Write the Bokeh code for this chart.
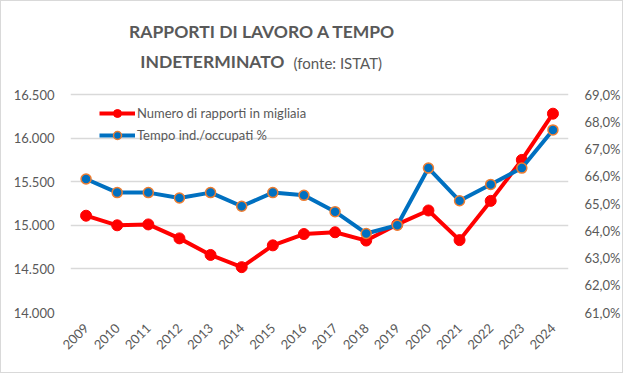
import math
from bokeh.plotting import figure
from bokeh.models import (Range1d, LinearAxis, FixedTicker, CustomJSTickFormatter,
                          Label, Legend, LegendItem, ColumnDataSource)
from bokeh.embed import file_html
from bokeh.resources import INLINE

years = [str(y) for y in range(2009, 2025)]
rapporti = [15110, 15000, 15010, 14850, 14660, 14520, 14770, 14900,
            14920, 14825, 15010, 15170, 14830, 15280, 15750, 16280]
quota = [65.9, 65.4, 65.4, 65.2, 65.4, 64.9, 65.4, 65.3,
         64.7, 63.9, 64.2, 66.3, 65.1, 65.7, 66.3, 67.7]
left_ticks = [14000, 14500, 15000, 15500, 16000, 16500]
right_ticks = [61, 62, 63, 64, 65, 66, 67, 68, 69]

FONT = "Lato"
TXT = "#595959"
RED = "#FF0000"
BLUE = "#0070C0"
ORANGE = "#ED7D31"

W, H = 623, 373
TOP, BOTTOM = 5, 62
frame_h = H - TOP - BOTTOM
# keep the scale of 14.000-16.500 over 218 px, extend frame upward to host the title
l_top = 14000 + frame_h * 2500 / 218
r_top = 61 + frame_h * 8 / 218

src = ColumnDataSource(dict(year=years, r=rapporti, q=quota))

p = figure(width=W, height=H, x_range=years, y_range=Range1d(14000, l_top),
           output_backend="svg", toolbar_location=None,
           min_border_left=69, min_border_right=56, min_border_top=TOP, min_border_bottom=BOTTOM)
p.styles = {"border": "1px solid #d9d9d9"}
p.outline_line_color = None
p.background_fill_color = "white"
p.border_fill_color = "white"
p.extra_y_ranges = {"pct": Range1d(61, r_top)}

p.xgrid.grid_line_color = None
p.ygrid.grid_line_color = "#d9d9d9"
p.ygrid.grid_line_width = 1.5
p.yaxis.ticker = FixedTicker(ticks=left_ticks)
p.yaxis.formatter = CustomJSTickFormatter(code="""
const t = Math.round(tick);
return Math.floor(t/1000) + '.' + String(t % 1000).padStart(3, '0');
""")
right = LinearAxis(y_range_name="pct", ticker=FixedTicker(ticks=right_ticks),
                   formatter=CustomJSTickFormatter(code="return tick.toFixed(1).replace('.', ',') + '%';"))
p.add_layout(right, "right")

for ax in [p.yaxis[0], right]:
    ax.axis_line_color = None
    ax.major_tick_line_color = None
    ax.minor_tick_line_color = None
    ax.major_label_text_font = FONT
    ax.major_label_text_font_size = "13px"
    ax.major_label_text_color = TXT
    ax.major_label_standoff = 10

xa = p.xaxis[0]
xa.axis_line_color = None
xa.major_tick_line_color = None
xa.major_label_orientation = math.pi / 4
xa.major_label_text_font = FONT
xa.major_label_text_font_size = "13px"
xa.major_label_text_color = TXT
xa.major_label_standoff = 7

r_line = p.line("year", "r", source=src, color=RED, line_width=4)
r_pts = p.scatter("year", "r", source=src, size=11, fill_color=RED, line_color=RED)
b_line = p.line("year", "q", source=src, y_range_name="pct", color=BLUE, line_width=4)
b_pts = p.scatter("year", "q", source=src, y_range_name="pct", size=10,
                  fill_color=BLUE, line_color=ORANGE, line_width=1.5)

legend = Legend(items=[
    LegendItem(label="Numero di rapporti in migliaia", renderers=[r_line, r_pts]),
    LegendItem(label="Tempo ind./occupati %", renderers=[b_line, b_pts]),
], location=(29, 167), background_fill_alpha=0, border_line_color=None,
    label_text_font=FONT, label_text_font_size="13px", label_text_color=TXT,
    glyph_width=36, spacing=2, padding=2, margin=0, label_standoff=2)
p.add_layout(legend, "center")

# screen units: measured from the frame's bottom-left corner
t1 = Label(x=192, y=281, x_units="screen", y_units="screen", text="RAPPORTI DI LAVORO A TEMPO",
           text_font=FONT, text_font_size="17.5px", text_font_style="bold", text_color=TXT,
           text_align="center", text_baseline="middle")
t2 = Label(x=214, y=251, x_units="screen", y_units="screen", text="INDETERMINATO",
           text_font=FONT, text_font_size="17.5px", text_font_style="bold", text_color=TXT,
           text_align="right", text_baseline="middle")
t3 = Label(x=223, y=250, x_units="screen", y_units="screen", text="(fonte: ISTAT)",
           text_font=FONT, text_font_size="15px", text_color=TXT,
           text_align="left", text_baseline="middle")
for t in (t1, t2, t3):
    p.add_layout(t)

open("out.html", "w").write(file_html(p, INLINE))
